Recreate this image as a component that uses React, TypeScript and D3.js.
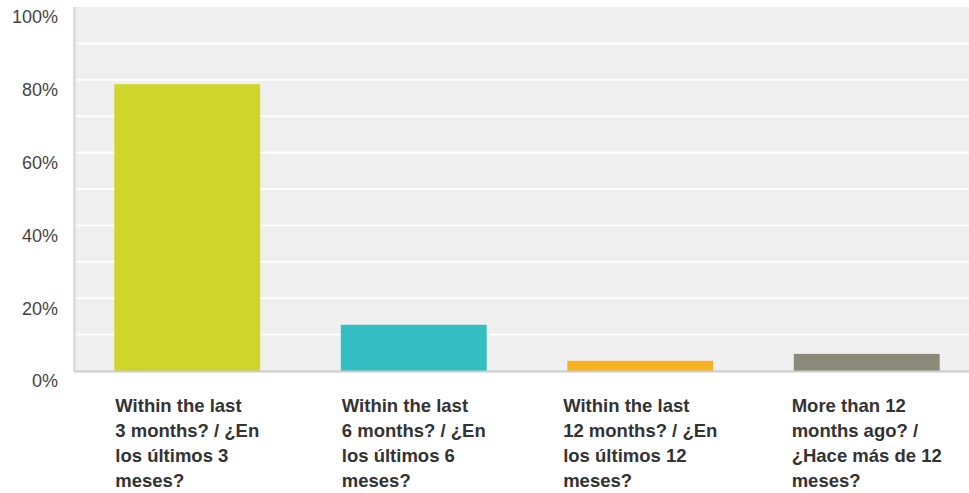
import React, { useEffect, useRef } from "react";
import * as d3 from "d3";

const categories = [
  ["Within the last", "3 months? / ¿En", "los últimos 3", "meses?"],
  ["Within the last", "6 months? / ¿En", "los últimos 6", "meses?"],
  ["Within the last", "12 months? / ¿En", "los últimos 12", "meses?"],
  ["More than 12", "months ago? /", "¿Hace más de 12", "meses?"],
];
const values = [78.8, 12.7, 2.8, 4.7];
const colors = ["#cfd52a", "#33bec2", "#f8b121", "#8a8a78"];
const tickValues = [0, 20, 40, 60, 80, 100];
const gridValues = d3.range(10, 100, 10);

const W = 969;
const H = 493;
const margin = { top: 7, left: 74, bottom: 122, right: -11 };

export default function App() {
  const ref = useRef<SVGSVGElement>(null);

  useEffect(() => {
    const svg = d3.select(ref.current!);
    svg.selectAll("*").remove();

    const x = d3
      .scaleBand<number>()
      .domain(d3.range(values.length))
      .range([margin.left, W - margin.right])
      .paddingInner(0.356)
      .paddingOuter(0.178);

    const y = d3
      .scaleLinear()
      .domain([0, 100])
      .range([H - margin.bottom, margin.top]);

    // plot background
    svg
      .append("rect")
      .attr("x", margin.left)
      .attr("y", y(100))
      .attr("width", W - margin.right - margin.left)
      .attr("height", y(0) - y(100))
      .attr("fill", "#efefef");

    svg
      .append("g")
      .selectAll("line")
      .data(gridValues)
      .join("line")
      .attr("x1", margin.left)
      .attr("x2", W - margin.right)
      .attr("y1", (d) => y(d))
      .attr("y2", (d) => y(d))
      .attr("stroke", "#ffffff")
      .attr("stroke-width", 2);

    // left axis line
    svg
      .append("line")
      .attr("x1", margin.left + 0.5)
      .attr("x2", margin.left + 0.5)
      .attr("y1", y(100))
      .attr("y2", y(0))
      .attr("stroke", "#dddddd")
      .attr("stroke-width", 3);

    svg
      .append("g")
      .selectAll("rect")
      .data(values)
      .join("rect")
      .attr("x", (_, i) => x(i)!)
      .attr("y", (d) => y(d))
      .attr("width", x.bandwidth())
      .attr("height", (d) => y(0) - y(d))
      .attr("fill", (_, i) => colors[i]);

    // bottom axis line
    svg
      .append("line")
      .attr("x1", margin.left)
      .attr("x2", W)
      .attr("y1", y(0) + 0.5)
      .attr("y2", y(0) + 0.5)
      .attr("stroke", "#cccccc")
      .attr("stroke-width", 2);

    svg
      .append("g")
      .selectAll("text")
      .data(tickValues)
      .join("text")
      .attr("x", 58)
      .attr("y", (d) => y(d) + 10)
      .attr("dy", "0.35em")
      .attr("text-anchor", "end")
      .attr("font-family", "'Liberation Sans', Arial, sans-serif")
      .attr("font-size", 18)
      .attr("fill", "#444444")
      .text((d) => `${d}%`);

    // category labels: left-aligned lines, block centred under the bar
    svg
      .append("g")
      .selectAll("text")
      .data(categories)
      .join("text")
      .attr("y", 406)
      .attr("font-family", "'Liberation Sans', Arial, sans-serif")
      .attr("font-size", 18.5)
      .attr("font-weight", "bold")
      .attr("fill", "#333333")
      .each(function (lines, i) {
        const t = d3.select(this);
        const spans = t
          .selectAll("tspan")
          .data(lines)
          .join("tspan")
          .attr("dy", (_, j) => (j === 0 ? "0.35em" : "24.7"))
          .text((d) => d);
        let maxW = 0;
        spans.each(function () {
          maxW = Math.max(maxW, (this as SVGTSpanElement).getComputedTextLength());
        });
        const left = x(i)! + x.bandwidth() / 2 - maxW / 2;
        spans.attr("x", left);
      });
  }, []);

  return (
    <svg
      ref={ref}
      width={W}
      height={H}
      style={{ display: "block", position: "absolute", left: 0, top: 0, background: "#fff" }}
    />
  );
}
